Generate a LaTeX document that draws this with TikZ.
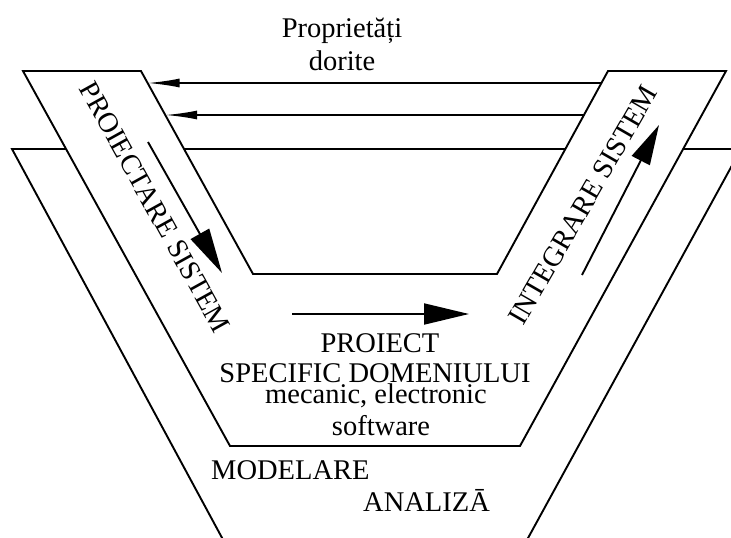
\documentclass[tikz,border=0pt]{standalone}
\usepackage{fontspec}
\setmainfont{Liberation Serif}
\usetikzlibrary{arrows.meta}
\begin{document}
\begin{tikzpicture}[x=1pt,y=-1pt,
  outline/.style={line width=1.9pt, line join=miter},
  feed/.style={line width=1.9pt, -{Latex[length=32pt,width=9pt]}},
  flow/.style={line width=1.9pt, -{Triangle[length=45pt,width=21pt]}},
  lbl/.style={font=\fontsize{28.5}{30}\selectfont, inner sep=0pt},
]
\clip (0,0) rectangle (731,538);

% back layer: modelling / analysis
\coordinate (mtl) at (12,149);
\coordinate (mtr) at (741,149);
\coordinate (mbl) at (234,560);
\coordinate (mbr) at (516,560);
\draw[outline] (mbl) -- (mtl) -- (mtr) -- (mbr);

% the V: system design band, domain design base, integration band
\coordinate (vlo) at (23,71);
\coordinate (vli) at (141,71);
\coordinate (vbi1) at (253,274);
\coordinate (vbi2) at (497,274);
\coordinate (vri) at (608,71);
\coordinate (vro) at (726,71);
\coordinate (vbo2) at (520,446);
\coordinate (vbo1) at (230,446);
\filldraw[outline, fill=white] (vlo) -- (vli) -- (vbi1) -- (vbi2) -- (vri)
  -- (vro) -- (vbo2) -- (vbo1) -- cycle;

% feedback of the desired properties
\coordinate (fa1) at (601.4,83);
\coordinate (fa2) at (147.6,83);
\coordinate (fb1) at (584,115);
\coordinate (fb2) at (165.2,115);
\draw[feed] (fa1) -- (fa2);
\draw[feed] (fb1) -- (fb2);

% flow through the V
\coordinate (d1) at (148,142);
\coordinate (d2) at (222,273);
\coordinate (h1) at (292,314);
\coordinate (h2) at (469,314);
\coordinate (u1) at (582,275);
\coordinate (u2) at (659,125);
\draw[flow] (d1) -- (d2);
\draw[flow] (h1) -- (h2);
\draw[flow, -{Triangle[length=40pt,width=20pt]}] (u1) -- (u2);

% labels
\node[lbl, anchor=base] (prop) at (342,37) {Proprietăți};
\node[lbl, anchor=base] (dor) at (342,70) {dorite};
\node[lbl, rotate=-61] (ps) at (155,207) {PROIECTARE SISTEM};
\node[lbl, rotate=60] (is) at (583,205) {INTEGRARE SISTEM};
\node[lbl, anchor=base] (pr) at (380,352) {PROIECT};
\node[lbl, anchor=base] (sd) at (375,382) {SPECIFIC DOMENIULUI};
\node[lbl, anchor=base] (me) at (376,403) {mecanic, electronic};
\node[lbl, anchor=base] (sw) at (381,435) {software};
\node[lbl, anchor=base west] (mo) at (211,479) {MODELARE};
\node[lbl, anchor=base west] (an) at (363,511) {ANALIZĀ};
\end{tikzpicture}
\end{document}
